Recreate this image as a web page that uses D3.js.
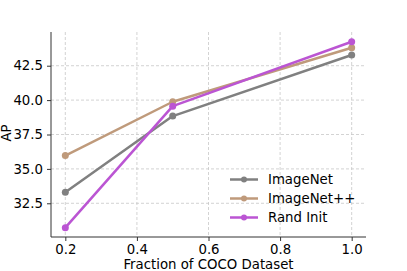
<!DOCTYPE html>
<html><head><meta charset="utf-8">
<script src="https://cdn.jsdelivr.net/npm/d3@7"></script>
<style>
body{margin:0;background:#fff;}
text{font-family:"DejaVu Sans",sans-serif;}
</style></head>
<body><svg id="c" width="407" height="271"></svg>
<script>
const fractions = [0.2, 0.5, 1.0];
const seriesNames = ["ImageNet", "ImageNet++", "Rand Init"];
const imagenet = [33.3, 38.84, 43.28];
const imagenetPP = [35.97, 39.88, 43.81];
const randInit = [30.73, 39.56, 44.24];
const colors = ["#808080", "#bf9a7b", "#bb55d3"];
const xTicks = [0.2, 0.4, 0.6, 0.8, 1.0];
const yTicks = [32.5, 35.0, 37.5, 40.0, 42.5];

const series = [imagenet, imagenetPP, randInit];
const svg = d3.select("#c");
const L = 51, R = 366, T = 32, B = 237;
const FS = "13.3px";
const x = d3.scaleLinear().domain([0.16, 1.04]).range([L, R]);
const y = d3.scaleLinear().domain([30.05, 44.95]).range([B, T]);

// grid
const g = svg.append("g");
g.selectAll(".gx").data(xTicks).join("line")
  .attr("x1", d => x(d)).attr("x2", d => x(d)).attr("y1", T).attr("y2", B)
  .attr("stroke", "#c8c8c8").attr("stroke-width", 0.8).attr("stroke-dasharray", "3,2");
g.selectAll(".gy").data(yTicks).join("line")
  .attr("x1", L).attr("x2", R).attr("y1", d => y(d)).attr("y2", d => y(d))
  .attr("stroke", "#c8c8c8").attr("stroke-width", 0.8).attr("stroke-dasharray", "3,2");

// axes
const xAxis = d3.axisBottom(x).tickValues(xTicks).tickFormat(d3.format(".1f")).tickSize(4).tickPadding(4);
const yAxis = d3.axisLeft(y).tickValues(yTicks).tickFormat(d3.format(".1f")).tickSize(4).tickPadding(4);
const gx = svg.append("g").attr("transform", `translate(0,${B})`).call(xAxis);
const gy = svg.append("g").attr("transform", `translate(${L},0)`).call(yAxis);
[gx, gy].forEach(a => {
  a.select(".domain").attr("stroke", "#333").attr("stroke-width", 1);
  a.selectAll(".tick line").attr("stroke", "#333");
  a.selectAll(".tick text").attr("fill", "#000").style("font-size", FS).style("font-family", "DejaVu Sans");
});
gx.select(".domain").attr("d", `M${L},0H${R}`);
gy.select(".domain").attr("d", `M0,${B}V${T}`);

// labels
svg.append("text").attr("x", 208.5).attr("y", 269).attr("text-anchor", "middle")
  .style("font-size", FS).text("Fraction of COCO Dataset");
svg.append("text").attr("transform", `translate(11,133) rotate(-90)`).attr("text-anchor", "middle")
  .style("font-size", FS).text("AP");

// lines
const line = d3.line().x((d, i) => x(fractions[i])).y(d => y(d));
series.forEach((s, k) => {
  svg.append("path").datum(s).attr("d", line).attr("fill", "none")
    .attr("stroke", colors[k]).attr("stroke-width", 2.5).attr("stroke-linejoin", "round");
  svg.selectAll(null).data(s).join("circle")
    .attr("cx", (d, i) => x(fractions[i])).attr("cy", d => y(d)).attr("r", 3.5).attr("fill", colors[k]);
});

// legend
const lg = svg.append("g");
seriesNames.forEach((n, k) => {
  const yy = 179.5 + k * 19;
  lg.append("line").attr("x1", 230).attr("x2", 258).attr("y1", yy).attr("y2", yy)
    .attr("stroke", colors[k]).attr("stroke-width", 2.5);
  lg.append("circle").attr("cx", 244).attr("cy", yy).attr("r", 3).attr("fill", colors[k]);
  lg.append("text").attr("x", 268).attr("y", yy).attr("dy", "0.36em").style("font-size", FS).text(n);
});
</script></body></html>
